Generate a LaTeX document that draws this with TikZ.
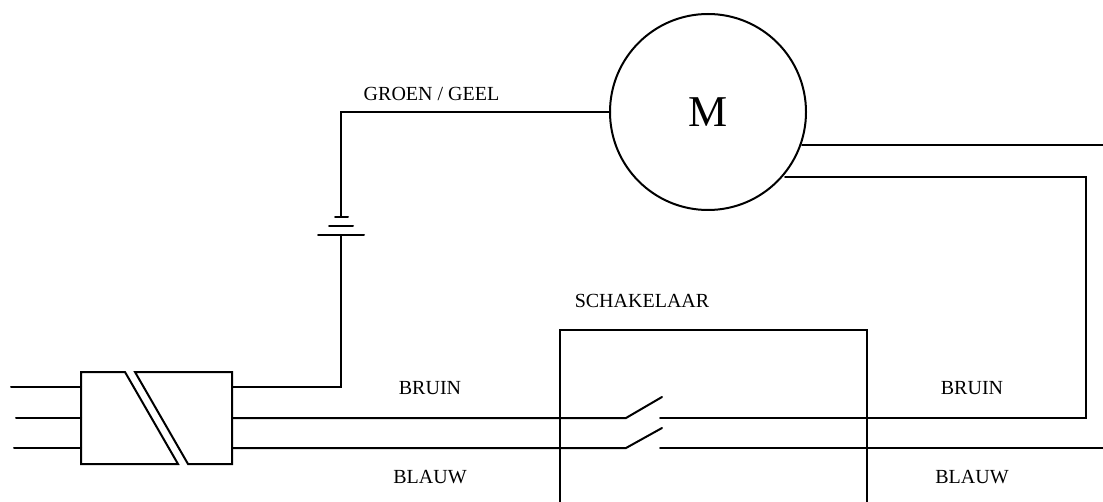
\documentclass[tikz,border=0pt]{standalone}
\usepackage{fontspec}
\setmainfont{Liberation Serif}
\tikzset{
  wire/.style={line width=1.5pt,line cap=round,line join=miter,black},
  frame/.style={line width=1.4pt,black},
  lbl/.style={inner sep=0pt,font=\fontsize{15}{18}\selectfont,anchor=base},
  pt/.style={coordinate}
}
\begin{document}
\begin{tikzpicture}[x=0.75pt,y=-0.75pt]
\useasboundingbox (0,0) rectangle (1103,502);
% motor
\node[circle,draw,line width=1.5pt,minimum size=147pt,inner sep=0pt,font=\fontsize{33}{36}\selectfont] (motor) at (708,112) {M};
% coupler
\coordinate (ctl) at (81,372); \coordinate (ctg) at (125,372); \coordinate (cbg) at (178,464); \coordinate (cbl) at (81,464);
\coordinate (ctg2) at (135,372); \coordinate (ctr) at (232,372); \coordinate (cbr) at (232,464); \coordinate (cbg2) at (188,464);
\draw[wire,line cap=butt] (ctg) -- (ctl) -- (cbl) -- (cbg) -- cycle;
\draw[wire,line cap=butt] (ctg2) -- (ctr) -- (cbr) -- (cbg2) -- cycle;
% incoming
\coordinate (a1) at (11,387); \coordinate (a2) at (16,418); \coordinate (a3) at (14,448);
\coordinate (b1) at (81,387); \coordinate (b2) at (81,418); \coordinate (b3) at (81,448);
\draw[wire] (a1) -- (b1); \draw[wire] (a2) -- (b2); \draw[wire] (a3) -- (b3);
% earth
\coordinate (c1) at (232,387); \coordinate (corner1) at (341,387);
\coordinate (p3l) at (318,235); \coordinate (p3r) at (364,235); \coordinate (p3) at (341,235);
\coordinate (p2l) at (329,226); \coordinate (p2r) at (353,226);
\coordinate (p1l) at (335,217); \coordinate (p1r) at (348,217); \coordinate (p1) at (341,217);
\coordinate (corner2) at (341,112); \coordinate (mw) at (610,112);
\draw[wire] (c1) -- (corner1) -- (p3);
\draw[wire] (p3l) -- (p3r); \draw[wire] (p2l) -- (p2r); \draw[wire] (p1l) -- (p1r);
\draw[wire] (p1) -- (corner2) -- (mw);
% switch frame
\coordinate (s1) at (560,502); \coordinate (s2) at (560,330); \coordinate (s3) at (867,330); \coordinate (s4) at (867,502);
\draw[frame] (s1) -- (s2) -- (s3) -- (s4);
% brown and blue wires
\coordinate (c2) at (232,418); \coordinate (c3) at (232,448);
\coordinate (k1) at (626,418); \coordinate (k1e) at (662,397); \coordinate (k2) at (626,448); \coordinate (k2e) at (662,428);
\coordinate (r1) at (660,418); \coordinate (r2) at (660,448);
\coordinate (bend) at (1086,418); \coordinate (bend2) at (1086,177); \coordinate (m2) at (785,177);
\coordinate (m1) at (802,145); \coordinate (m1e) at (1103,145); \coordinate (r2e) at (1103,448);
\draw[wire] (c2) -- (k1) -- (k1e);
\draw[wire] (c3) -- (k2) -- (k2e);
\draw[wire] (r1) -- (bend) -- (bend2) -- (m2);
\draw[wire] (r2) -- (r2e);
\draw[wire] (m1) -- (m1e);
% labels
\node[lbl] (t1) at (431.5,101) {GROEN / GEEL};
\node[lbl] (t2) at (642,307) {SCHAKELAAR};
\node[lbl] (t3) at (430,394) {BRUIN};
\node[lbl] (t4) at (430,483) {BLAUW};
\node[lbl] (t5) at (972,394) {BRUIN};
\node[lbl] (t6) at (972,483) {BLAUW};
\end{tikzpicture}
\end{document}
